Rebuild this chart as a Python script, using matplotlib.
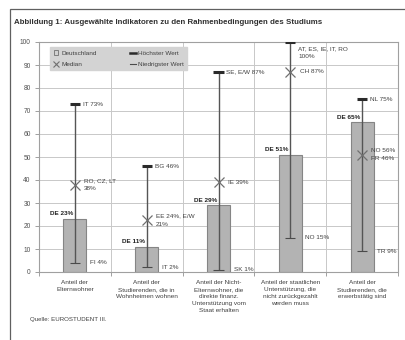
import matplotlib.pyplot as plt
from matplotlib.lines import Line2D
from matplotlib.patches import Patch

plt.rcParams['font.family'] = ['Liberation Sans Narrow', 'Liberation Sans', 'DejaVu Sans']

# Indikatoren (x-Achse)
categories = ['Anteil der\nElternwohner',
              'Anteil der\nStudierenden, die in\nWohnheimen wohnen',
              'Anteil der Nicht-\nElternwohner, die\ndirekte finanz.\nUnterstützung vom\nStaat erhalten',
              'Anteil der staatlichen\nUnterstützung, die\nnicht zurückgezahlt\nwerden muss',
              'Anteil der\nStudierenden, die\nerwerbstätig sind']

# Werte in Prozent
de_values = [23, 11, 29, 51, 65]
max_values = [73, 46, 87, 100, 75]
median_values = [38, 22.5, 39, 87, 51]
min_values = [4, 2, 1, 15, 9]

# Beschriftungen
de_labels = ['DE 23%', 'DE 11%', 'DE 29%', 'DE 51%', 'DE 65%']
max_labels = ['IT 73%', 'BG 46%', 'SE, E/W 87%', 'AT, ES, IE, IT, RO\n100%', 'NL 75%']
median_labels = ['RO, CZ, LT\n38%', 'EE 24%, E/W\n21%', 'IE 39%', 'CH 87%', 'NO 56%\nFR 46%']
min_labels = ['FI 4%', 'IT 2%', 'SK 1%', 'NO 15%', 'TR 9%']

TXT = '#404040'
GRID = '#c8c8c8'

fig = plt.figure(figsize=(4.05, 3.4), dpi=100)

# Rahmen um die ganze Abbildung
frame = plt.Rectangle((10 / 405, -0.05), 1.0, 1 - 9 / 340 + 0.05, transform=fig.transFigure,
                      fill=False, edgecolor='#606060', linewidth=0.9)
fig.patches.append(frame)

fig.text(14 / 405, 1 - 22 / 340, 'Abbildung 1: Ausgewählte Indikatoren zu den Rahmenbedingungen des Studiums',
         fontsize=5.7, fontweight='bold', color='#303030', va='center', ha='left')

ax = fig.add_axes([39 / 405, 68 / 340, 359 / 405, 230 / 340])

x = list(range(len(categories)))
ax.bar(x, de_values, width=0.32, color='#b3b3b3', edgecolor='#858585', linewidth=0.8, zorder=2)

for i in x:
    ax.vlines(i, min_values[i], max_values[i], color='#555555', linewidth=1.0, zorder=3)
    ax.hlines(max_values[i], i - 0.07, i + 0.07, color='#2a2a2a', linewidth=2.2, zorder=4)
    ax.hlines(min_values[i], i - 0.07, i + 0.07, color='#4a4a4a', linewidth=0.8, zorder=4)

ax.plot(x, median_values, linestyle='none', marker='x', markersize=7, markeredgewidth=0.9,
        color='#707070', zorder=5)

fs = 4.6
for i in x:
    ax.text(i - 0.02, de_values[i] + 1.2, de_labels[i], fontsize=fs, fontweight='bold',
            color='#202020', ha='right', va='bottom')
    ax.text(i + 0.13, median_values[i], median_labels[i], fontsize=fs, color=TXT,
            ha='left', va='center', linespacing=1.9)
    ax.text(i + 0.21, min_values[i], min_labels[i], fontsize=fs, color=TXT,
            ha='left', va='center')
    if max_values[i] >= 100:
        ax.text(i + 0.11, 98.3, max_labels[i], fontsize=fs, color=TXT,
                ha='left', va='top', linespacing=1.8)
    else:
        ax.text(i + 0.11, max_values[i], max_labels[i], fontsize=fs, color=TXT,
                ha='left', va='center')

ax.set_xlim(-0.5, 4.5)
ax.set_ylim(0, 100)
ax.set_yticks(range(0, 101, 10))
ax.set_xticks([-0.5, 0.5, 1.5, 2.5, 3.5, 4.5])
ax.set_xticklabels([])
ax.tick_params(axis='y', labelsize=4.8, labelcolor='#505050', length=3, color='#909090', width=0.6, pad=3)
ax.tick_params(axis='x', length=3, color='#909090', width=0.6)
ax.grid(True, color=GRID, linewidth=0.7, zorder=0)
ax.set_axisbelow(True)
for s in ax.spines.values():
    s.set_color('#a0a0a0')
    s.set_linewidth(0.8)

# Kategorienbeschriftungen unter der Achse
for i, c in enumerate(categories):
    ax.text(i, -3.3, c, fontsize=fs, color=TXT, ha='center', va='top', linespacing=1.55)

handles = [Patch(facecolor='#d0d0d0', edgecolor='#707070', linewidth=0.6),
           Line2D([], [], linestyle='none', marker='x', color='#707070', markersize=4, markeredgewidth=0.8),
           Line2D([], [], color='#2a2a2a', linewidth=1.8),
           Line2D([], [], color='#4a4a4a', linewidth=0.8)]
labels = ['Deutschland', 'Median', 'Höchster Wert', 'Niedrigster Wert']
leg = ax.legend(handles, labels, ncol=2, loc='upper left', bbox_to_anchor=(0.022, 0.99),
                fontsize=fs, frameon=True, fancybox=False, facecolor='#d3d3d3', edgecolor='#d3d3d3',
                framealpha=1, handlelength=0.9, handleheight=0.6, handletextpad=0.3,
                columnspacing=5.2, borderpad=0.55, labelspacing=0.8, labelcolor=TXT)
for t in leg.get_patches():
    t.set_width(3.5)
    t.set_height(3.5)

fig.text(30 / 405, 1 - 319 / 340, 'Quelle: EUROSTUDENT III.', fontsize=4.4, color=TXT,
         ha='left', va='center')

fig.savefig('out.png', dpi=100)
